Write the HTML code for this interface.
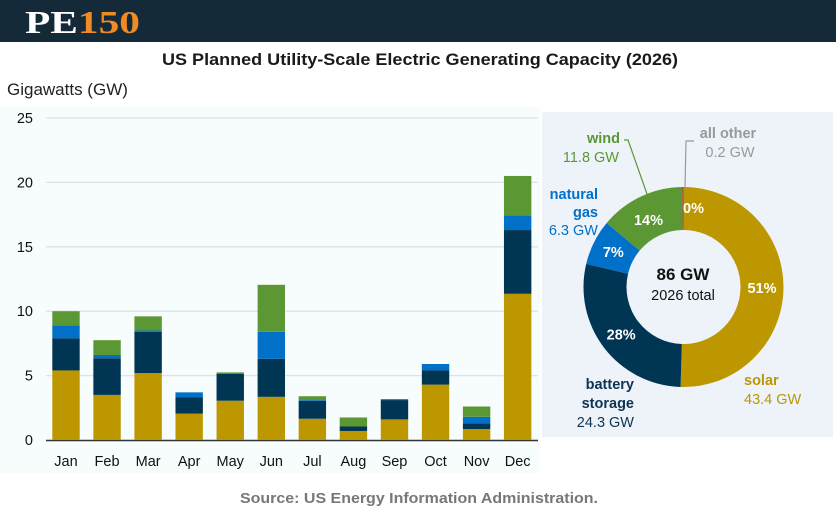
<!DOCTYPE html>
<html><head><meta charset="utf-8"><style>
html,body{margin:0;padding:0;background:#fff;}
body{width:836px;height:512px;position:relative;overflow:hidden;font-family:"Liberation Sans",sans-serif;}
</style></head><body>
<svg width="836" height="512" viewBox="0 0 836 512" xmlns="http://www.w3.org/2000/svg">
<rect x="0" y="0" width="836" height="42" fill="#152a38"/>
<text x="25" y="33" font-family="Liberation Serif,serif" font-weight="bold" font-size="32" textLength="115" lengthAdjust="spacingAndGlyphs" fill="#fff">PE<tspan fill="#f08a24">150</tspan></text>
<text x="420" y="65" text-anchor="middle" font-weight="bold" font-size="17" textLength="516" lengthAdjust="spacingAndGlyphs" fill="#1a1a1a">US Planned Utility-Scale Electric Generating Capacity (2026)</text>
<rect x="0" y="107" width="540" height="366" fill="#f7fcfd"/>
<text x="7" y="95" font-size="17" fill="#222">Gigawatts (GW)</text>
<g id="axes"></g>
<g id="bars"></g>
<rect x="542" y="112" width="291" height="325" fill="#eef3fa"/>
<g id="donut"></g>
<text x="683" y="280" text-anchor="middle" font-weight="bold" font-size="17" fill="#111">86 GW</text>
<text x="683" y="300" text-anchor="middle" font-size="14.5" fill="#111">2026 total</text>
<g font-size="14.5">
<text x="620" y="143" text-anchor="end" font-weight="bold" fill="#5b9833">wind</text>
<text x="619" y="162" text-anchor="end" fill="#5b9833">11.8 GW</text>
<polyline points="624,140 628,140 647,194" fill="none" stroke="#5b9833" stroke-width="1.2"/>
<text x="728" y="138" text-anchor="middle" font-weight="bold" fill="#999">all other</text>
<text x="730" y="157" text-anchor="middle" fill="#999">0.2 GW</text>
<polyline points="685,187 686,141 694,141" fill="none" stroke="#999" stroke-width="1.2"/>
<text x="598" y="199" text-anchor="end" font-weight="bold" fill="#0070c8">natural</text>
<text x="598" y="217" text-anchor="end" font-weight="bold" fill="#0070c8">gas</text>
<text x="598" y="235" text-anchor="end" fill="#0070c8">6.3 GW</text>
<text x="634" y="389" text-anchor="end" font-weight="bold" fill="#0d3451">battery</text>
<text x="634" y="408" text-anchor="end" font-weight="bold" fill="#0d3451">storage</text>
<text x="634" y="427" text-anchor="end" fill="#0d3451">24.3 GW</text>
<text x="744" y="385" font-weight="bold" fill="#b8960a">solar</text>
<text x="744" y="404" fill="#b8960a">43.4 GW</text>
</g>
<text x="419" y="503" text-anchor="middle" font-weight="bold" font-size="15" textLength="358" lengthAdjust="spacingAndGlyphs" fill="#777">Source: US Energy Information Administration.</text>
</svg>
<script>
const months=["Jan","Feb","Mar","Apr","May","Jun","Jul","Aug","Sep","Oct","Nov","Dec"];
const solar=[5.4,3.5,5.2,2.05,3.05,3.35,1.65,0.7,1.6,4.3,0.85,11.35];
const battery=[2.5,2.85,3.2,1.25,2.1,2.95,1.4,0.35,1.5,1.1,0.45,4.95];
const gas=[1.0,0.25,0.1,0.4,0,2.1,0.05,0,0.07,0.5,0.5,1.15];
const wind=[1.1,1.15,1.1,0,0.1,3.65,0.3,0.7,0,0,0.8,3.05];
const yTicks=[0,5,10,15,20,25];
const donutNames=["solar","battery","gas","wind","other"];
const donutValues=[43.4,24.3,6.3,11.8,0.2];
const donutPct=["51%","28%","7%","14%","0%"];
const NS="http://www.w3.org/2000/svg";
const y=v=>440-v*12.88;
const xc=i=>66+i*41.06;
const cols=["#bd9700","#003654","#0070c8","#5b9833"];
const series=[solar,battery,gas,wind];
const sn=["solar","battery","gas","wind"];
function mk(t,a,p){const e=document.createElementNS(NS,t);for(const k in a)e.setAttribute(k,a[k]);p.appendChild(e);return e;}
const ax=document.getElementById("axes");
yTicks.forEach(t=>{
 if(t>0){const l=mk("line",{x1:46,x2:538,y1:y(t),y2:y(t),stroke:"#dde2ea","stroke-width":1.3},ax);
 
 }
 const tx=mk("text",{x:33,y:y(t)+5,"text-anchor":"end","font-size":14.5,fill:"#111"},ax);tx.textContent=t;
 
 
});
const base=mk("line",{x1:46,x2:538,y1:440.5,y2:440.5,stroke:"#333","stroke-width":1.5},ax);


const bg=document.getElementById("bars");
months.forEach((m,i)=>{
 let acc=0;
 series.forEach((s,k)=>{
  const v=s[i];if(v<=0)return;
  const r=mk("rect",{x:xc(i)-13.7,width:27.4,y:y(acc+v),height:v*12.88,fill:cols[k]},bg);
  
  
  acc+=v;
 });
 const t=mk("text",{x:xc(i),y:466,"text-anchor":"middle","font-size":14.5,fill:"#111"},bg);t.textContent=m;
 
 
});
const dg=document.getElementById("donut");
const cx=683.5,cy=287,R=100,r=57;
const dcols=["#bd9700","#003654","#0070c8","#5b9833","#a0522d"];
const tot=donutValues.reduce((a,b)=>a+b,0);
let a0=0;
donutValues.forEach((v,i)=>{
 const a1=a0+v/tot*2*Math.PI;
 const p=(a,rr)=>[cx+rr*Math.sin(a),cy-rr*Math.cos(a)];
 const lg=(a1-a0)>Math.PI?1:0;
 const [x0,y0]=p(a0,R),[x1,y1]=p(a1,R),[x2,y2]=p(a1,r),[x3,y3]=p(a0,r);
 const path=mk("path",{d:`M${x0},${y0}A${R},${R} 0 ${lg} 1 ${x1},${y1}L${x2},${y2}A${r},${r} 0 ${lg} 0 ${x3},${y3}Z`,fill:dcols[i]},dg);
 
 
 let am=(a0+a1)/2;
 let lp=p(am,(R+r)/2);
 if(i===4)lp=[cx+10,cy-79];
 if(i===3)lp=[cx-35,cy-67];
 const t=mk("text",{x:lp[0],y:lp[1]+5,"text-anchor":"middle","font-size":14.5,"font-weight":"bold",fill:"#fff"},dg);
 t.textContent=donutPct[i];
 
 
 a0=a1;
});
</script>
</body></html>
